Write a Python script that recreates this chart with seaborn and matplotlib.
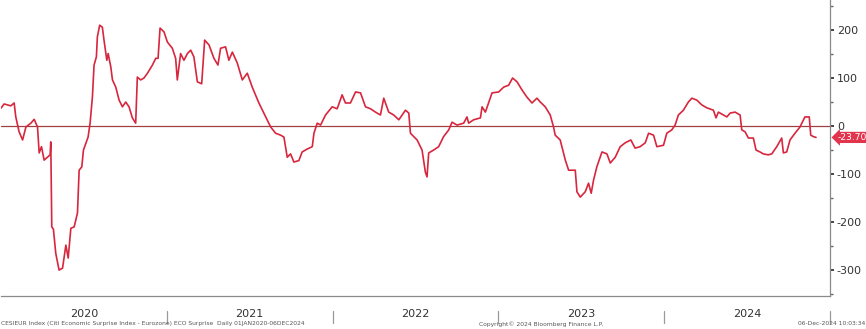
import numpy as np
import pandas as pd
import seaborn as sns
import matplotlib.pyplot as plt
from matplotlib.ticker import MultipleLocator
import matplotlib.transforms as mtransforms

# Citi Economic Surprise Index - Eurozone (decimal year, index value)
anni = [
    2020.000, 2020.020, 2020.060, 2020.080, 2020.090, 2020.110, 2020.131, 2020.151, 2020.181, 2020.201,
    2020.221, 2020.231, 2020.245, 2020.261, 2020.297, 2020.301, 2020.307, 2020.317, 2020.331, 2020.351,
    2020.372, 2020.392, 2020.406, 2020.422, 2020.442, 2020.462, 2020.472, 2020.488, 2020.498, 2020.526,
    2020.538, 2020.552, 2020.562, 2020.576, 2020.582, 2020.596, 2020.612, 2020.622, 2020.639, 2020.647,
    2020.663, 2020.673, 2020.693, 2020.713, 2020.733, 2020.753, 2020.773, 2020.793, 2020.813, 2020.823,
    2020.843, 2020.863, 2020.884, 2020.914, 2020.934, 2020.948, 2020.960, 2020.984, 2021.004, 2021.034,
    2021.054, 2021.064, 2021.084, 2021.104, 2021.125, 2021.145, 2021.164, 2021.185, 2021.211, 2021.229,
    2021.255, 2021.285, 2021.309, 2021.325, 2021.355, 2021.375, 2021.396, 2021.426, 2021.456, 2021.486,
    2021.516, 2021.556, 2021.586, 2021.627, 2021.657, 2021.687, 2021.707, 2021.727, 2021.747, 2021.767,
    2021.797, 2021.817, 2021.847, 2021.878, 2021.888, 2021.908, 2021.928, 2021.958, 2021.998, 2022.028,
    2022.058, 2022.078, 2022.108, 2022.139, 2022.169, 2022.199, 2022.229, 2022.259, 2022.289, 2022.309,
    2022.339, 2022.369, 2022.400, 2022.440, 2022.460, 2022.470, 2022.490, 2022.510, 2022.540, 2022.560,
    2022.570, 2022.580, 2022.610, 2022.640, 2022.670, 2022.701, 2022.721, 2022.751, 2022.791, 2022.811,
    2022.821, 2022.851, 2022.892, 2022.902, 2022.922, 2022.962, 2023.002, 2023.032, 2023.062, 2023.086,
    2023.113, 2023.143, 2023.173, 2023.203, 2023.233, 2023.253, 2023.283, 2023.313, 2023.333, 2023.343,
    2023.373, 2023.404, 2023.424, 2023.464, 2023.474, 2023.494, 2023.524, 2023.544, 2023.560, 2023.574,
    2023.594, 2023.625, 2023.655, 2023.675, 2023.705, 2023.735, 2023.765, 2023.799, 2023.825, 2023.855,
    2023.886, 2023.906, 2023.936, 2023.956, 2023.996, 2024.016, 2024.046, 2024.066, 2024.086, 2024.116,
    2024.146, 2024.167, 2024.197, 2024.227, 2024.257, 2024.297, 2024.313, 2024.327, 2024.357, 2024.378,
    2024.398, 2024.428, 2024.458, 2024.468, 2024.488, 2024.508, 2024.538, 2024.554, 2024.578, 2024.598,
    2024.628, 2024.649, 2024.679, 2024.709, 2024.719, 2024.739, 2024.759, 2024.789, 2024.819, 2024.849,
    2024.875, 2024.884, 2024.900, 2024.916,
]
valori = [
    37, 46, 42, 48, 19, -12, -29, -2, 6, 14,
    -2, -56, -43, -71, -60, -33, -210, -215, -265, -300,
    -296, -248, -275, -213, -210, -181, -92, -85, -50, -23,
    6, 60, 127, 144, 186, 210, 206, 179, 137, 151,
    123, 96, 81, 54, 40, 50, 40, 17, 6, 102,
    96, 100, 110, 127, 141, 141, 204, 196, 175, 162,
    141, 96, 151, 137, 151, 158, 144, 92, 88, 179,
    169, 141, 127, 162, 165, 137, 154, 131, 96, 110,
    81, 48, 27, -2, -15, -19, -23, -65, -58, -75,
    -72, -54, -48, -43, -15, 6, 2, 23, 40, 36,
    65, 48, 48, 71, 69, 40, 36, 29, 23, 58,
    29, 23, 13, 33, 27, -15, -22, -29, -50, -96,
    -106, -56, -50, -43, -22, -8, 8, 2, 6, 19,
    6, 13, 17, 40, 29, 69, 71, 81, 85, 100,
    92, 75, 60, 48, 58, 50, 40, 23, -2, -19,
    -29, -71, -92, -92, -137, -148, -137, -119, -140, -113,
    -85, -54, -58, -77, -65, -43, -35, -29, -46, -43,
    -35, -15, -19, -43, -40, -15, -8, 2, 23, 33,
    50, 58, 54, 44, 38, 33, 17, 29, 23, 19,
    27, 29, 23, -8, -12, -25, -25, -50, -54, -58,
    -60, -58, -43, -25, -56, -54, -29, -15, -2, 19,
    19, -19, -22, -23.7,
]
ultimo_valore = -23.70
anni_etichette = [2020, 2021, 2022, 2023, 2024]
yticks = [-300, -200, -100, 0, 100, 200]

colore_linea = '#d7263d'
colore_testo = '#333333'

sns.set_style('white')
plt.rcParams['font.family'] = ['DejaVu Sans']

fig = plt.figure(figsize=(8.66, 3.29), dpi=100)
ax = fig.add_axes([0.001, 0.1003, 0.9574, 0.8997])

df = pd.DataFrame({'anno': anni, 'valore': valori})
sns.lineplot(data=df, x='anno', y='valore', ax=ax, color=colore_linea, linewidth=1.2)
ax.axhline(0, color='#a04040', linewidth=0.9, zorder=1)

ax.set_xlim(2020, 2025)
ax.set_ylim(-354, 262.5)
ax.set_xlabel('')
ax.set_ylabel('')

# assi: solo destra e sotto
for lato in ['top', 'left']:
    ax.spines[lato].set_visible(False)
for lato in ['right', 'bottom']:
    ax.spines[lato].set_color('#8a8a8a')
    ax.spines[lato].set_linewidth(0.9)

ax.yaxis.tick_right()
ax.set_yticks(yticks)
ax.set_yticklabels([str(t) for t in yticks])
ax.yaxis.set_minor_locator(MultipleLocator(50))
ax.tick_params(axis='y', which='major', length=3, width=1.4, color='#444444',
               labelsize=8, labelcolor=colore_testo, pad=2)
ax.tick_params(axis='y', which='minor', length=2, width=1.0, color='#666666')

# tick mensili sull'asse x, etichette anno al centro
ax.set_xticks(anni_etichette + [2025])
ax.set_xticklabels([])
ax.xaxis.set_minor_locator(MultipleLocator(1 / 12))
ax.tick_params(axis='x', which='major', length=0)
ax.tick_params(axis='x', which='minor', length=2, width=0.8, color='#555555')

trans = mtransforms.blended_transform_factory(ax.transData, ax.transAxes)
for a in anni_etichette:
    ax.text(a + 0.5, -0.062, str(a), transform=trans, ha='center', va='center',
            fontsize=8, color=colore_testo)
for a in anni_etichette[1:] + [2025]:
    ax.plot([a, a], [-0.05, -0.09], transform=trans, color='#9a9a9a',
            linewidth=0.9, clip_on=False)

# etichetta ultimo valore
trans_y = mtransforms.blended_transform_factory(ax.transAxes, ax.transData)
ax.text(1.009, ultimo_valore, f'{ultimo_valore:.2f}', transform=trans_y,
        ha='left', va='center', fontsize=6.6, color='white',
        bbox=dict(boxstyle='larrow,pad=0.12', fc='#e3344e', ec='none'))

# testi a piè di pagina
fig.text(0.001, 0.016, 'CESIEUR Index (Citi Economic Surprise Index - Eurozone) ECO Surprise  Daily 01JAN2020-06DEC2024',
         fontsize=4.3, color='#555555', ha='left', va='center')
fig.text(0.625, 0.016, 'Copyright\u00a9 2024 Bloomberg Finance L.P.',
         fontsize=4.3, color='#555555', ha='center', va='center')
fig.text(0.999, 0.016, '06-Dec-2024 10:03:34',
         fontsize=4.3, color='#555555', ha='right', va='center')

plt.savefig('out.png', dpi=100)
